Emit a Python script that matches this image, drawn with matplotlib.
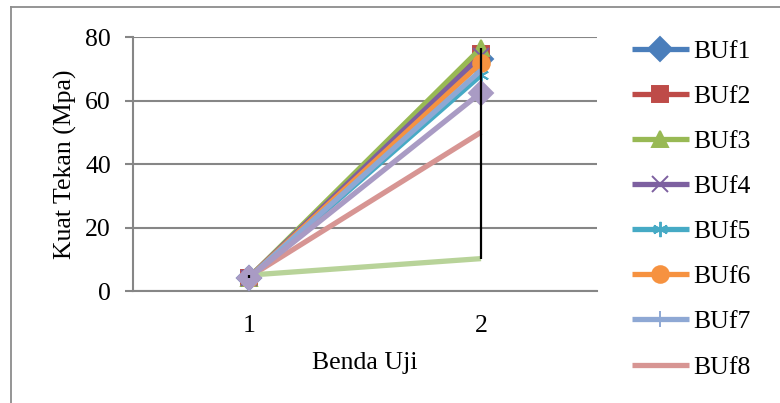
import matplotlib.pyplot as plt
from matplotlib.lines import Line2D

plt.rcParams['font.family'] = ['Liberation Serif', 'DejaVu Serif']

# benda uji (x categories) and kuat tekan per series
benda_uji = [1, 2]
names = ["BUf1", "BUf2", "BUf3", "BUf4", "BUf5", "BUf6", "BUf7", "BUf8", "BUf9", "BUf10"]
bu_f1 = [4.2, 73.0]
bu_f2 = [4.2, 74.6]
bu_f3 = [4.2, 76.5]
bu_f4 = [4.2, 74.0]
bu_f5 = [4.2, 68.0]
bu_f6 = [4.2, 71.8]
bu_f7 = [4.2, 69.5]
bu_f8 = [4.4, 50.0]
bu_f9 = [5.0, 10.2]
bu_f10 = [4.2, 62.5]
series = [bu_f1, bu_f2, bu_f3, bu_f4, bu_f5, bu_f6, bu_f7, bu_f8, bu_f9, bu_f10]

colors = ["#4A7EBB", "#BE4B48", "#98B954", "#7D60A0", "#46AAC5",
          "#F69240", "#8EA8D4", "#D79593", "#B8D399", "#A99BC4"]
markers = ["D", "s", "^", "x", (6, 2, 0), "o", "|", None, None, "D"]

fs = 18.5

fig = plt.figure(figsize=(7.8, 4.03), dpi=100)
ax = fig.add_axes([133 / 780, 1 - 291 / 403, (597 - 133) / 780, (291 - 37) / 403])

# outer chart border (only top/left visible)
fig.add_artist(Line2D([11 / 780, 1.0], [1 - 7 / 403, 1 - 7 / 403], color="#8c8c8c", lw=1.3))
fig.add_artist(Line2D([11 / 780, 11 / 780], [0.0, 1 - 7 / 403], color="#8c8c8c", lw=1.3))

# high-low lines
for i, x in enumerate(benda_uji):
    vals = [s[i] for s in series]
    ax.vlines(x, min(vals), max(vals), color="black", lw=1.6, zorder=5)

for i, (name, vals) in enumerate(zip(names, series)):
    m = markers[i]
    ms = 12 if m not in ("x", (6, 2, 0), "|") else 11
    ax.plot(benda_uji, vals, color=colors[i], lw=3.8, marker=m, markersize=ms,
            markeredgewidth=1.4, markerfacecolor=colors[i], markeredgecolor=colors[i],
            solid_capstyle="butt", label=name if i < 8 else "_nolegend_", zorder=3 + i * 0.01)

ax.set_xlim(0.5, 2.5)
ax.set_ylim(0, 80)
ax.set_yticks([0, 20, 40, 60, 80])
ax.set_xticks(benda_uji)
ax.grid(axis="y", color="#868686", lw=1.5)
ax.set_axisbelow(True)
for side in ["top", "right"]:
    ax.spines[side].set_visible(False)
for side in ["left", "bottom"]:
    ax.spines[side].set_color("#868686")
    ax.spines[side].set_linewidth(1.5)
ax.tick_params(axis="y", direction="out", length=6, width=1.5, color="#868686",
               labelsize=fs, pad=10)
ax.tick_params(axis="x", length=0, labelsize=fs, pad=17)

ax.set_ylabel("Kuat Tekan (Mpa)", fontsize=fs, labelpad=6)
ax.set_xlabel("Benda Uji", fontsize=fs, labelpad=11)

handles, labels = ax.get_legend_handles_labels()
fig.legend(handles, labels, loc="upper left", bbox_to_anchor=(632 / 780, 1 - 40 / 403),
           frameon=False, fontsize=fs, handlelength=2.2, handletextpad=0.2,
           labelspacing=0.86, borderaxespad=0, borderpad=0)

fig.savefig("out.png", dpi=100)
